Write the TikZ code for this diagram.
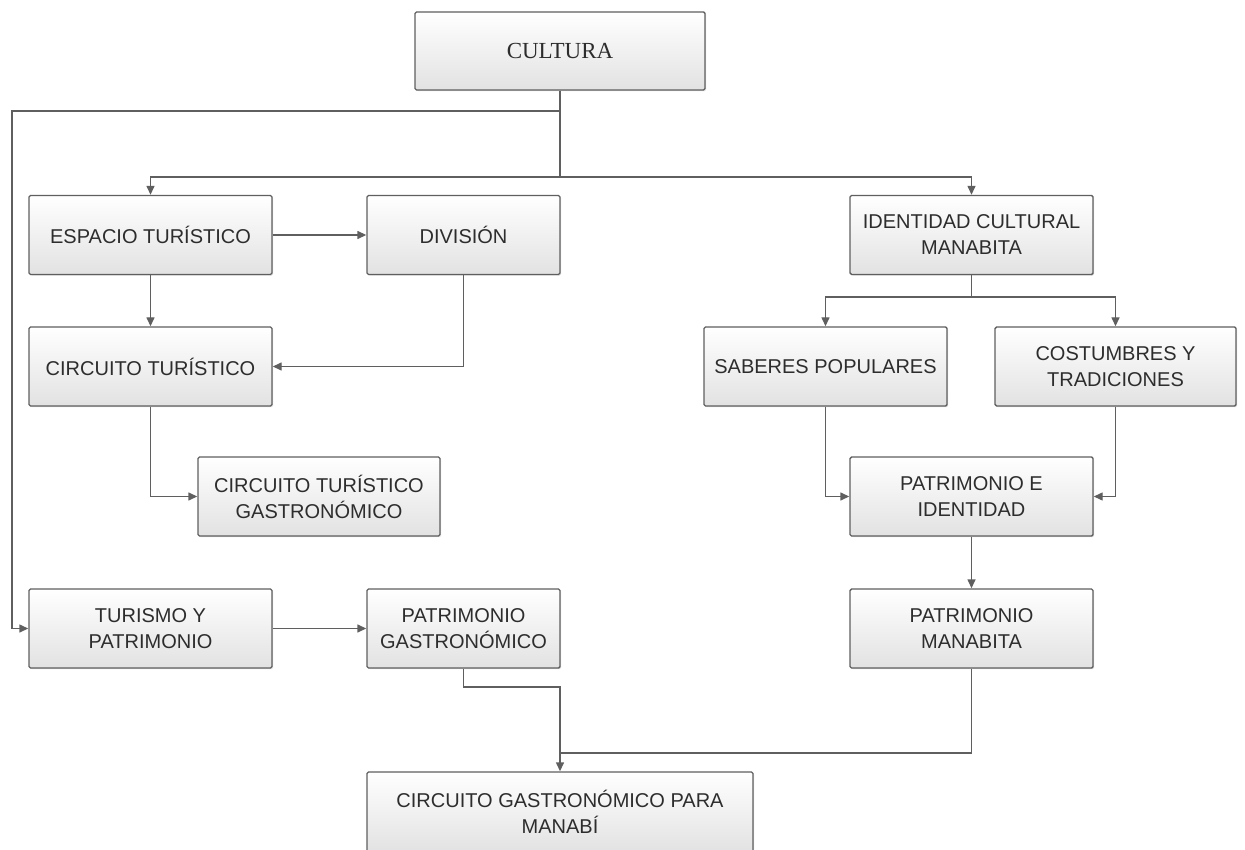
\documentclass[tikz,border=0pt]{standalone}
\usepackage{fontspec}
\setmainfont{Liberation Sans}
\newfontfamily\titlefont{Liberation Serif}
\usepackage{tikz}
\usetikzlibrary{arrows.meta,calc,positioning,shadows}
\usepackage{xcolor}
\definecolor{edgegray}{RGB}{95,95,95}
\definecolor{shadegray}{RGB}{226,226,226}
\definecolor{textgray}{RGB}{45,45,45}

\begin{document}
\begin{tikzpicture}[x=1pt,y=-1pt,>={Triangle[length=9pt,width=8pt]},
  box/.style={draw=edgegray,line width=1.4pt,rounded corners=1.5pt,top color=white,bottom color=shadegray,
    drop shadow={shadow xshift=1.2pt,shadow yshift=-1.2pt,opacity=.25},
    minimum height=79pt,align=center,inner sep=0pt,text=textgray,font=\fontsize{20}{26}\selectfont},
  link/.style={draw=edgegray,line width=1.4pt}]
  \useasboundingbox (0,0) rectangle (1245,850);
  \node[box,minimum width=290pt,minimum height=78pt,font=\titlefont\fontsize{23}{28}\selectfont] (cult) at (560,51) {CULTURA};
  \node[box,minimum width=243pt] (esp) at (150.5,235) {ESPACIO TURÍSTICO};
  \node[box,minimum width=193pt] (div) at (463.5,235) {DIVISIÓN};
  \node[box,minimum width=243pt] (ident) at (971.5,235) {IDENTIDAD CULTURAL\\MANABITA};
  \node[box,minimum width=243pt] (circ) at (150.5,366.5) {CIRCUITO TURÍSTICO};
  \node[box,minimum width=243pt] (sab) at (825.5,366.5) {SABERES POPULARES};
  \node[box,minimum width=241pt] (cost) at (1115.5,366.5) {COSTUMBRES Y\\TRADICIONES};
  \node[box,minimum width=242pt] (ctg) at (319,496.5) {CIRCUITO TURÍSTICO\\GASTRONÓMICO};
  \node[box,minimum width=243pt] (pei) at (971.5,496.5) {PATRIMONIO E\\IDENTIDAD};
  \node[box,minimum width=243pt] (tur) at (150.5,628.5) {TURISMO Y\\PATRIMONIO};
  \node[box,minimum width=193pt] (pg) at (463.5,628.5) {PATRIMONIO\\GASTRONÓMICO};
  \node[box,minimum width=243pt] (pm) at (971.5,628.5) {PATRIMONIO\\MANABITA};
  \node[box,minimum width=386pt,minimum height=80pt] (cgm) at (560,812) {CIRCUITO GASTRONÓMICO PARA\\MANABÍ};
  \coordinate (topleft) at (12,111);
  \coordinate (bus1) at (560,177);
  \coordinate (bus2) at (971.5,297);
  \coordinate (pgbend) at (560,687);
  \coordinate (join) at (560,753);
  \draw[link,->] (cult.south) |- (topleft) |- (tur.west);
  \draw[link,->] (cult.south) -- (bus1) -| (esp.north);
  \draw[link,->] (bus1) -| (ident.north);
  \draw[link,->] (esp) -- (div);
  \draw[link,->] (esp) -- (circ);
  \draw[link,->] (div.south) |- (circ.east);
  \draw[link,->] (circ.south) |- (ctg.west);
  \draw[link,->] (ident.south) -- (bus2) -| (sab.north);
  \draw[link,->] (bus2) -| (cost.north);
  \draw[link,->] (sab.south) |- (pei.west);
  \draw[link,->] (cost.south) |- (pei.east);
  \draw[link,->] (pei) -- (pm);
  \draw[link,->] (tur) -- (pg);
  \draw[link,->] (pg.south) |- (pgbend) -- (cgm.north);
  \draw[link] (pm.south) |- (join);
\end{tikzpicture}
\end{document}
